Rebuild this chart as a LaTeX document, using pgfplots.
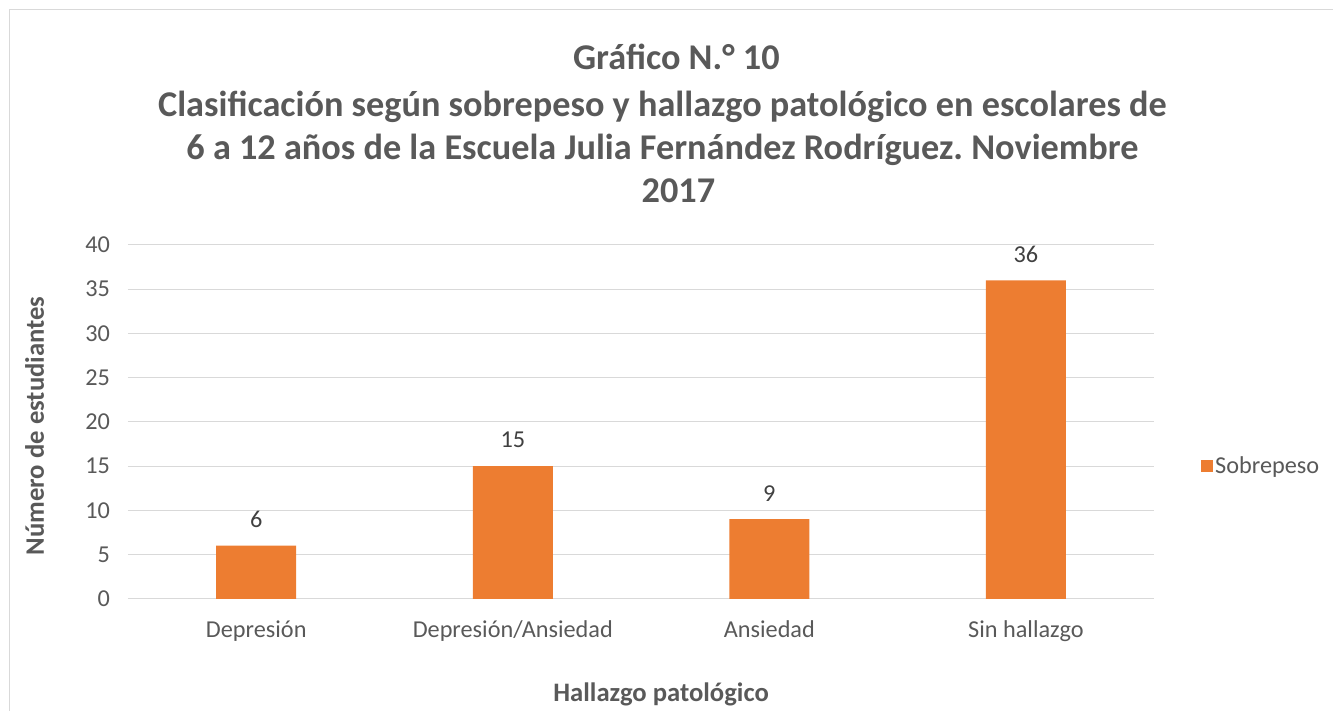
\documentclass[border=0pt]{standalone}
\usepackage{pgfplots}
\pgfplotsset{compat=1.18}
\usepackage{fontspec}
\setmainfont{Carlito}
\frenchspacing
\definecolor{barc}{HTML}{ED7D31}
\definecolor{txt}{HTML}{595959}
\definecolor{gridc}{HTML}{D9D9D9}
\begin{document}
\begin{tikzpicture}
\path (0,0) rectangle (1000.5pt,533.25pt);
\draw[gridc, line width=0.8pt] (7pt,0) -- (7pt,526pt) -- (1000.5pt,526pt);
\begin{axis}[
  at={(96pt,84pt)}, anchor=south west,
  scale only axis, width=770pt, height=265.5pt,
  ymin=0, ymax=40, ytick={0,5,...,40},
  xmin=-0.5, xmax=3.5, xtick=data,
  xticklabels={Depresión, Depresión/Ansiedad, Ansiedad, Sin hallazgo},
  axis line style={draw=none},
  axis x line*=bottom, x axis line style={draw=gridc, line width=0.8pt},
  ymajorgrids, grid style={gridc, line width=0.8pt},
  major tick length=0pt,
  tick label style={font=\fontsize{18.2}{21}\selectfont, text=txt},
  /pgf/number format/assume math mode=true,
  xticklabel style={yshift=-13pt},
  yticklabel style={xshift=-10pt},
  ybar, bar width=60pt,
  nodes near coords, nodes near coords style={font=\fontsize{18.2}{21}\selectfont, text=black!75, yshift=10pt},
  legend style={at={(1.041,0.376)}, anchor=west, draw=none, font=\fontsize{18.2}{21}\selectfont, text=txt},
  legend image code/.code={\fill[barc] (0cm,-4.5pt) rectangle (9pt,4.5pt);},
]
\addplot[fill=barc, draw=none] coordinates {(0,6) (1,15) (2,9) (3,36)};
\addlegendentry{Sobrepeso}
\end{axis}
\node[align=center, font=\fontsize{27.2}{32.25}\selectfont\bfseries, text=txt] at (497pt,441pt)
  {\hspace*{21pt}Gráfico N.° 10\\[3pt]Clasificación según sobrepeso y hallazgo patológico en escolares de\\6 a 12 años de la Escuela Julia Fernández Rodríguez. Noviembre\hspace*{10pt}\\\hspace*{24pt}2017};
\node[font=\fontsize{20}{24}\selectfont\bfseries, text=txt] at (496pt,12pt) {Hallazgo patológico};
\node[rotate=90, font=\fontsize{20}{24}\selectfont\bfseries, text=txt] at (26pt,213.75pt) {Número de estudiantes};
\end{tikzpicture}
\end{document}
